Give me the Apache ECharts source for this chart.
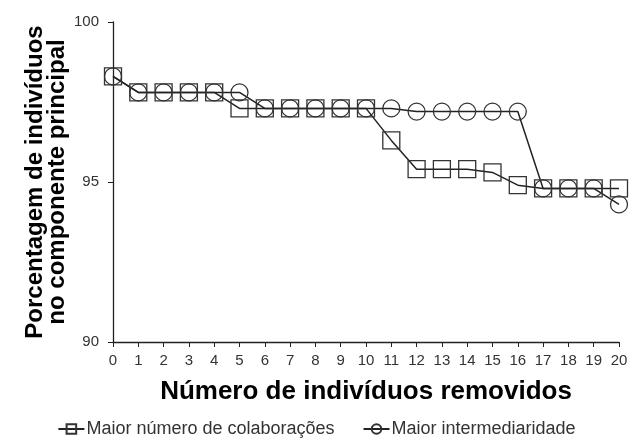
<!DOCTYPE html>
<html><head><meta charset="utf-8">
<script src="https://cdn.jsdelivr.net/npm/echarts@6/dist/echarts.min.js"></script>
<style>html,body{margin:0;padding:0;background:#fff}#c{width:633px;height:445px}</style>
</head><body><div id="c"></div>
<script>
const xValues = [0,1,2,3,4,5,6,7,8,9,10,11,12,13,14,15,16,17,18,19,20];
const colaboracoes = [98.3,97.8,97.8,97.8,97.8,97.3,97.3,97.3,97.3,97.3,97.3,96.3,95.4,95.4,95.4,95.3,94.9,94.8,94.8,94.8,94.8];
const intermediaridade = [98.3,97.8,97.8,97.8,97.8,97.8,97.3,97.3,97.3,97.3,97.3,97.3,97.2,97.2,97.2,97.2,97.2,94.8,94.8,94.8,94.3];
const seriesNames = ['Maior número de colaborações','Maior intermediaridade'];
const xTitle = 'Número de indivíduos removidos';
const yTitle = 'Porcentagem de indivíduos\nno componente principal';

const chart = echarts.init(document.getElementById('c'));
const font = 'Liberation Sans, Arial, sans-serif';
function mk(name, vals, sym){
  return {
    name, type:'line', data: xValues.map((x,i)=>[x,vals[i]]),
    symbol: sym, symbolSize: 17,
    lineStyle:{color:'#222', width:1.5},
    itemStyle:{color:'transparent', borderColor:'#333', borderWidth:1.3},
    emphasis:{disabled:true}, animation:false
  };
}
chart.setOption({
  animation:false,
  textStyle:{fontFamily:font},
  grid:{left:113, right:14, top:22, bottom:103, containLabel:false},
  xAxis:{type:'value', min:0, max:20, interval:1,
    axisLine:{lineStyle:{color:'#222', width:1.3}},
    axisTick:{show:true, inside:false, length:5, lineStyle:{color:'#222'}},
    axisLabel:{color:'#333', fontSize:15, margin:11, fontFamily:font},
    splitLine:{show:false},
    name:xTitle, nameLocation:'middle', nameGap:37, nameMoveOverlap:false,
    nameTextStyle:{fontSize:26, fontWeight:'bold', color:'#000', fontFamily:font}
  },
  yAxis:{type:'value', min:90, max:100, interval:5,
    axisLine:{show:true, lineStyle:{color:'#222', width:1.3}},
    axisTick:{show:true, length:5, lineStyle:{color:'#222'}},
    axisLabel:{color:'#333', fontSize:15, margin:14, fontFamily:font},
    splitLine:{show:false},
    name:yTitle, nameLocation:'middle', nameGap:45, nameRotate:90, nameMoveOverlap:false,
    nameTextStyle:{fontSize:24, fontWeight:'bold', color:'#000', fontFamily:font, lineHeight:22}
  },
  legend:{top:415, left:'center', itemGap:28, itemWidth:26, itemHeight:12,
    textStyle:{fontSize:18, color:'#333', fontFamily:font, padding:[0,0,0,-3]},
    data:seriesNames},
  series:[mk(seriesNames[0], colaboracoes, 'rect'), mk(seriesNames[1], intermediaridade, 'circle')]
});
</script></body></html>
